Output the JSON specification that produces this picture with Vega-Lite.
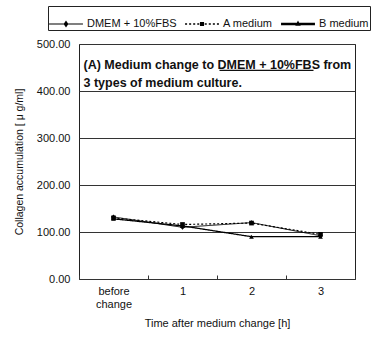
{
  "$schema": "https://vega.github.io/schema/vega-lite/v6.json",
  "width": 276,
  "height": 235,
  "autosize": {"type": "none"},
  "padding": {"left": 79, "top": 44, "right": 24, "bottom": 59},
  "background": "white",
  "config": {
    "font": "Liberation Sans",
    "view": {"stroke": "#222", "strokeWidth": 1}
  },
  "data": {
    "values": [
      {"time": "before change", "series": "DMEM + 10%FBS", "value": 132},
      {"time": "1", "series": "DMEM + 10%FBS", "value": 110},
      {"time": "2", "series": "DMEM + 10%FBS", "value": 120},
      {"time": "3", "series": "DMEM + 10%FBS", "value": 92},
      {"time": "before change", "series": "A medium", "value": 130},
      {"time": "1", "series": "A medium", "value": 116},
      {"time": "2", "series": "A medium", "value": 119},
      {"time": "3", "series": "A medium", "value": 95},
      {"time": "before change", "series": "B medium", "value": 128},
      {"time": "1", "series": "B medium", "value": 113},
      {"time": "2", "series": "B medium", "value": 90},
      {"time": "3", "series": "B medium", "value": 90}
    ]
  },
  "resolve": {"scale": {"shape": "independent"}, "legend": {"shape": "independent"}},
  "layer": [
    {
      "mark": {"type": "line", "color": "black"},
      "encoding": {
        "x": {
          "field": "time",
          "type": "nominal",
          "sort": ["before change", "1", "2", "3"],
          "scale": {"type": "band", "paddingInner": 0, "paddingOuter": 0},
          "axis": {
            "title": "Time after medium change [h]",
            "titleFontSize": 11,
            "titleFontWeight": "normal",
            "titleColor": "#111",
            "titlePadding": 8,
            "labelAngle": 0,
            "labelFontSize": 11,
            "labelColor": "#111",
            "labelPadding": 10,
            "labelExpr": "datum.label == 'before change' ? ['before', 'change'] : datum.label",
            "tickBand": "extent",
            "tickSize": -4,
            "tickColor": "#333",
            "domain": false,
            "grid": false
          }
        },
        "y": {
          "field": "value",
          "type": "quantitative",
          "scale": {"domain": [0, 500], "nice": false},
          "axis": {
            "title": "Collagen accumulation [ μ g/ml]",
            "titleFontSize": 10.5,
            "titleFontWeight": "normal",
            "titleColor": "#111",
            "titlePadding": 12,
            "values": [0, 100, 200, 300, 400, 500],
            "format": ".2f",
            "labelFontSize": 11,
            "labelColor": "#111",
            "labelPadding": 9,
            "tickSize": 0,
            "domain": false,
            "grid": true,
            "gridColor": "#333",
            "gridOpacity": 1,
            "gridWidth": 1
          }
        },
        "detail": {"field": "series"},
        "strokeDash": {
          "field": "series",
          "type": "nominal",
          "scale": {"domain": ["DMEM + 10%FBS", "A medium", "B medium"], "range": [[1, 0], [2, 2], [1, 0]]},
          "legend": null
        },
        "strokeWidth": {
          "field": "series",
          "type": "ordinal",
          "scale": {"domain": ["DMEM + 10%FBS", "A medium", "B medium"], "range": [1, 1.3, 2.6]},
          "legend": null
        }
      }
    },
    {
      "mark": {"type": "point", "filled": true, "color": "black", "opacity": 1, "size": 22},
      "encoding": {
        "x": {"field": "time", "type": "nominal", "sort": ["before change", "1", "2", "3"]},
        "y": {"field": "value", "type": "quantitative"},
        "shape": {
          "field": "series",
          "type": "nominal",
          "scale": {"domain": ["DMEM + 10%FBS", "A medium", "B medium"], "range": ["diamond", "square", "triangle-up"]},
          "legend": null
        }
      }
    },
    {
      "mark": {"type": "point", "filled": true, "color": "black", "opacity": 0, "size": 0},
      "encoding": {
        "x": {"field": "time", "type": "nominal", "sort": ["before change", "1", "2", "3"]},
        "y": {"field": "value", "type": "quantitative"},
        "shape": {
          "field": "series",
          "type": "nominal",
          "scale": {
            "domain": ["DMEM + 10%FBS", "A medium", "B medium"],
            "range": [
              "M-1,-0.03H1V0.03H-1Z M0,-0.2L0.14,0L0,0.2L-0.14,0Z",
              "M-1,-0.04H-0.88V0.04H-1Z M-0.76,-0.04H-0.64V0.04H-0.76Z M-0.52,-0.04H-0.4V0.04H-0.52Z M-0.28,-0.04H-0.16V0.04H-0.28Z M0.16,-0.04H0.28V0.04H0.16Z M0.4,-0.04H0.52V0.04H0.4Z M0.64,-0.04H0.76V0.04H0.64Z M0.88,-0.04H1V0.04H0.88Z M-0.12,-0.12H0.12V0.12H-0.12Z",
              "M-1,-0.07H1V0.07H-1Z M0,-0.2L0.16,0.1L-0.16,0.1Z"
            ]
          },
          "legend": {
            "title": null,
            "orient": "none",
            "legendX": -31,
            "legendY": -38,
            "direction": "horizontal",
            "strokeColor": "#222",
            "padding": 1,
            "labelFontSize": 11,
            "labelColor": "#111",
            "labelOffset": 4,
            "symbolSize": 1150,
            "symbolOpacity": 1,
            "symbolFillColor": "black",
            "symbolStrokeWidth": 0,
            "columnPadding": 8
          }
        }
      }
    },
    {
      "data": {"values": [{"note": ["(A) Medium change to DMEM + 10%FBS from", "3 types of medium culture."]}]},
      "mark": {"type": "text", "align": "left", "baseline": "top", "fontSize": 12.5, "fontWeight": "bold", "lineHeight": 18, "color": "#111", "dx": -30},
      "encoding": {
        "x": {"datum": "before change"},
        "y": {"datum": 469},
        "text": {"field": "note"}
      }
    },
    {
      "data": {"values": [{"emphasis": "DMEM + 10%FBS"}]},
      "mark": {"type": "rule", "color": "#111", "strokeWidth": 1.2, "xOffset": 37, "x2Offset": 131},
      "encoding": {
        "x": {"datum": "1"},
        "x2": {"datum": "1"},
        "y": {"datum": 444}
      }
    }
  ]
}
